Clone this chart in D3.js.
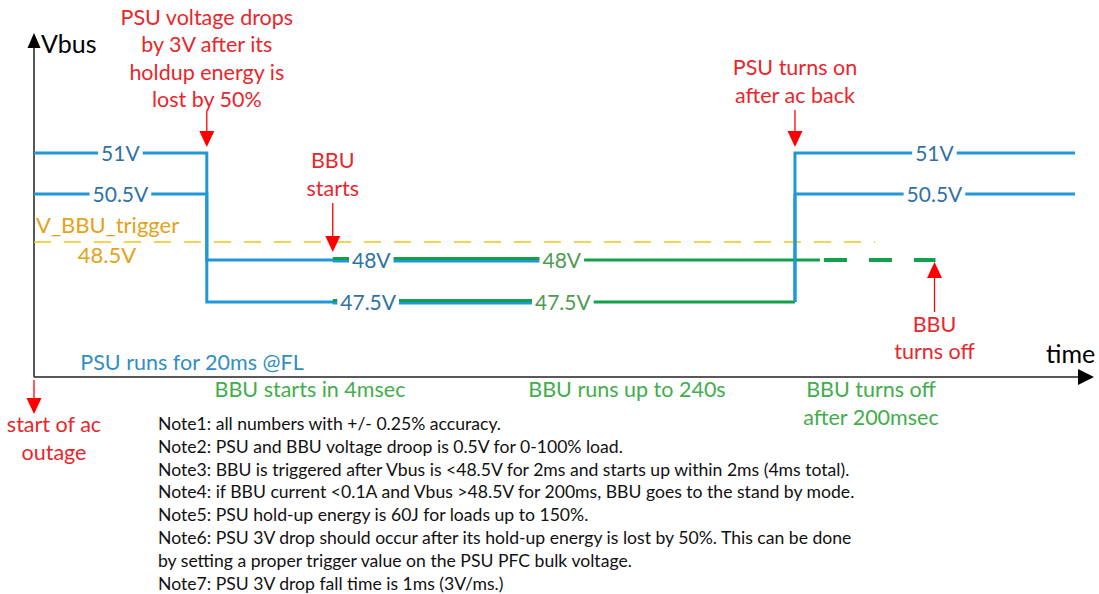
<!DOCTYPE html>
<html>
<head>
<meta charset="utf-8">
<script src="https://cdn.jsdelivr.net/npm/d3@7"></script>
<style>
  body { margin: 0; background: #fff; }
  svg { display: block; font-family: Lato, "Open Sans", sans-serif; }
</style>
</head>
<body>
<div id="wrapper"></div>
<script>
// voltage levels on the Vbus axis (V), schematic, not to scale
const levels = [47.5, 48, 48.5, 50.5, 51]

// schematic time marks (arbitrary units 0..100)
const tOutage = 0
const tPsuDrop = 16.6
const tBbuStart = 28.7
const tOverlapEnd = 50.7
const tAcBack = 73.1
const tBbuSolidEnd = 75.5
const tTriggerEnd = 80.8
const tBbuOff = 86.6
const tEnd = 100

// PSU traces (blue), as [time, volts]
const psuLight = [[tOutage, 51], [tPsuDrop, 51], [tPsuDrop, 48], [tOverlapEnd, 48]]
const psuHeavy = [[tOutage, 50.5], [tPsuDrop, 50.5], [tPsuDrop, 47.5], [tOverlapEnd, 47.5]]
const psuBackLight = [[tAcBack, 47.5], [tAcBack, 51], [tEnd, 51]]
const psuBackHeavy = [[tAcBack, 50.5], [tEnd, 50.5]]

// BBU traces (green)
const bbuLight = [[tBbuStart, 48], [tBbuSolidEnd, 48]]
const bbuLightOff = [[tBbuSolidEnd, 48], [tBbuOff, 48]]
const bbuHeavy = [[tBbuStart, 47.5], [tAcBack, 47.5]]

// trigger threshold
const triggerLevel = 48.5

// value labels sitting on the traces
const labelTexts = ["51V", "50.5V", "48V", "47.5V", "48V", "47.5V", "51V", "50.5V"]
const labelTimes = [8.3, 8.3, 32.4, 32.1, 50.7, 50.8, 86.5, 86.5]
const labelVolts = [51, 50.5, 48, 47.5, 48, 47.5, 51, 50.5]
const labelKinds = ["psu", "psu", "psu", "psu", "bbu", "bbu", "psu", "psu"]

const notes = [
  "Note1: all numbers with +/- 0.25% accuracy.",
  "Note2: PSU and BBU voltage droop is 0.5V for 0-100% load.",
  "Note3: BBU is triggered after Vbus is <48.5V for 2ms and starts up within 2ms (4ms total).",
  "Note4: if BBU current <0.1A and Vbus >48.5V for 200ms, BBU goes to the stand by mode.",
  "Note5: PSU hold-up energy is 60J for loads up to 150%.",
  "Note6: PSU 3V drop should occur after its hold-up energy is lost by 50%. This can be done",
  "by setting a proper trigger value on the PSU PFC bulk voltage.",
  "Note7: PSU 3V drop fall time is 1ms (3V/ms.)"
]

const blue = "#1f98d5"
const blueText = "#2f72a6"
const green = "#13a04a"
const greenText = "#4d9c50"
const greenNote = "#42ad4b"
const red = "#ff0000"
const redText = "#e8262c"
const gold = "#f0c419"
const goldText = "#e3a21a"

const width = 1099
const height = 594

const svg = d3.select("#wrapper")
  .append("svg")
    .attr("width", width)
    .attr("height", height)

const x = d3.scaleLinear().domain([0, 100]).range([34, 1075])
const y = d3.scaleLinear().domain(levels).range([302, 260, 242, 194, 153])
const xAxisY = 377

const line = d3.line().x(d => x(d[0])).y(d => y(d[1]))

// axes
svg.append("line")
  .attr("x1", x(0)).attr("x2", x(0))
  .attr("y1", xAxisY).attr("y2", 46)
  .attr("stroke", "#222").attr("stroke-width", 1.5)
svg.append("path")
  .attr("d", `M${x(0)},33 L${x(0) - 6.5},48 L${x(0) + 6.5},48 Z`)
  .attr("fill", "#000")
svg.append("line")
  .attr("x1", x(0)).attr("x2", 1080)
  .attr("y1", xAxisY).attr("y2", xAxisY)
  .attr("stroke", "#222").attr("stroke-width", 1.5)
svg.append("path")
  .attr("d", `M1094,${xAxisY} L1078,${xAxisY - 8} L1078,${xAxisY + 8} Z`)
  .attr("fill", "#000")

svg.append("text").attr("x", 41).attr("y", 53)
  .attr("font-size", 25).attr("fill", "#000").text("Vbus")
svg.append("text").attr("x", 1046).attr("y", 363)
  .attr("font-size", 25).attr("fill", "#000").text("time")

// trigger threshold
svg.append("line")
  .attr("x1", x(0)).attr("x2", x(tTriggerEnd))
  .attr("y1", y(triggerLevel)).attr("y2", y(triggerLevel))
  .attr("stroke", gold).attr("stroke-width", 1.3)
  .attr("stroke-dasharray", "17,13")

svg.append("text").attr("x", 36).attr("y", 233)
  .attr("font-size", 22).attr("fill", goldText).text("V_BBU_trigger")
svg.append("text").attr("x", 107).attr("y", 263)
  .attr("font-size", 22).attr("fill", goldText)
  .attr("text-anchor", "middle").text(`${triggerLevel}V`)

// PSU traces
const traces = svg.append("g").attr("fill", "none").attr("stroke-width", 3)

traces.selectAll(".psu")
  .data([psuLight, psuHeavy, psuBackLight, psuBackHeavy])
  .enter().append("path")
    .attr("class", "psu")
    .attr("d", line)
    .attr("stroke", blue)

// overlap: BBU and PSU both on the bus, drawn as a two-tone line
const overlap = [[tBbuStart, 48, tOverlapEnd], [tBbuStart, 47.5, tOverlapEnd]]
traces.selectAll(".overlapBlue")
  .data(overlap)
  .enter().append("line")
    .attr("x1", d => x(d[0])).attr("x2", d => x(d[2]))
    .attr("y1", d => y(d[1]) + 1).attr("y2", d => y(d[1]) + 1)
    .attr("stroke", blue)

traces.selectAll(".bbu")
  .data([bbuLight, bbuHeavy])
  .enter().append("path")
    .attr("class", "bbu")
    .attr("d", d => d3.line().x(p => x(p[0])).y(p => y(p[1]) - 1.5)([d[0], [tOverlapEnd, d[0][1]]]))
    .attr("stroke", green)

traces.selectAll(".bbuRest")
  .data([bbuLight, bbuHeavy])
  .enter().append("path")
    .attr("d", d => line([[tOverlapEnd, d[0][1]], d[1]]))
    .attr("stroke", green)

traces.append("path")
  .attr("d", line(bbuLightOff))
  .attr("stroke", green)
  .attr("stroke-width", 4)
  .attr("stroke-dasharray", "0,4,23,18")

// vertical of ac-back drawn over the green line
traces.append("path")
  .attr("d", line([[tAcBack, 47.5], [tAcBack, 50.5]]))
  .attr("stroke", blue)

// labels on traces, with a white gap behind
const labels = svg.append("g")
  .selectAll("g")
  .data(labelTexts.map((t, i) => ({ text: t, t: labelTimes[i], v: labelVolts[i], kind: labelKinds[i] })))
  .enter().append("g")
    .attr("transform", d => `translate(${x(d.t)}, ${y(d.v)})`)

labels.append("text")
  .attr("text-anchor", "middle")
  .attr("dy", "0.36em")
  .attr("font-size", 21)
  .attr("fill", d => d.kind === "psu" ? blueText : greenText)
  .text(d => d.text)

labels.each(function() {
  const g = d3.select(this)
  const w = g.select("text").node().getComputedTextLength()
  g.insert("rect", "text")
    .attr("x", -w / 2 - 3).attr("y", -8)
    .attr("width", w + 6).attr("height", 16)
    .attr("fill", "#fff")
})

// red annotations with arrows
function arrow(cx, from, to) {
  const dir = to > from ? 1 : -1
  const head = 16
  svg.append("line")
    .attr("x1", cx).attr("x2", cx)
    .attr("y1", from).attr("y2", to - dir * head)
    .attr("stroke", red).attr("stroke-width", 1.3)
  svg.append("path")
    .attr("d", `M${cx},${to} L${cx - 7.5},${to - dir * head} L${cx + 7.5},${to - dir * head} Z`)
    .attr("fill", red)
}

function block(lines, cx, y0, step, color, size) {
  const t = svg.append("text")
    .attr("text-anchor", "middle")
    .attr("font-size", size)
    .attr("fill", color)
  lines.forEach((s, i) => {
    t.append("tspan").attr("x", cx).attr("y", y0 + i * step).text(s)
  })
}

block(["PSU voltage drops", "by 3V after its", "holdup energy is", "lost by 50%"], x(tPsuDrop), 25, 27.3, redText, 21.5)
arrow(x(tPsuDrop), 111, 147)

block(["BBU", "starts"], x(tBbuStart), 168, 28, redText, 21.5)
arrow(x(tBbuStart), 203, 252)

block(["PSU turns on", "after ac back"], x(tAcBack), 75, 28, redText, 21.5)
arrow(x(tAcBack), 110, 147)

block(["BBU", "turns off"], x(tBbuOff) - 1, 332, 27, redText, 21.5)
arrow(x(tBbuOff) - 1, 312, 262)

block(["start of ac", "outage"], 54, 432, 28, redText, 21.5)
arrow(x(tOutage), 380, 414)

// phase descriptions
block(["PSU runs for 20ms @FL"], 192, 370, 0, "#2f8fc4", 21.5)
block(["BBU starts in 4msec"], 310, 397, 0, greenNote, 21.5)
block(["BBU runs up to 240s"], 627, 397, 0, greenNote, 21.5)
block(["BBU turns off", "after 200msec"], 871, 397, 28, greenNote, 21.5)

// notes
const noteText = svg.append("text")
  .attr("font-size", 17.6)
  .attr("fill", "#111")
noteText.selectAll("tspan")
  .data(notes)
  .enter().append("tspan")
    .attr("x", 158)
    .attr("y", (d, i) => 430 + 22.8 * i)
    .text(d => d)
</script>
</body>
</html>
